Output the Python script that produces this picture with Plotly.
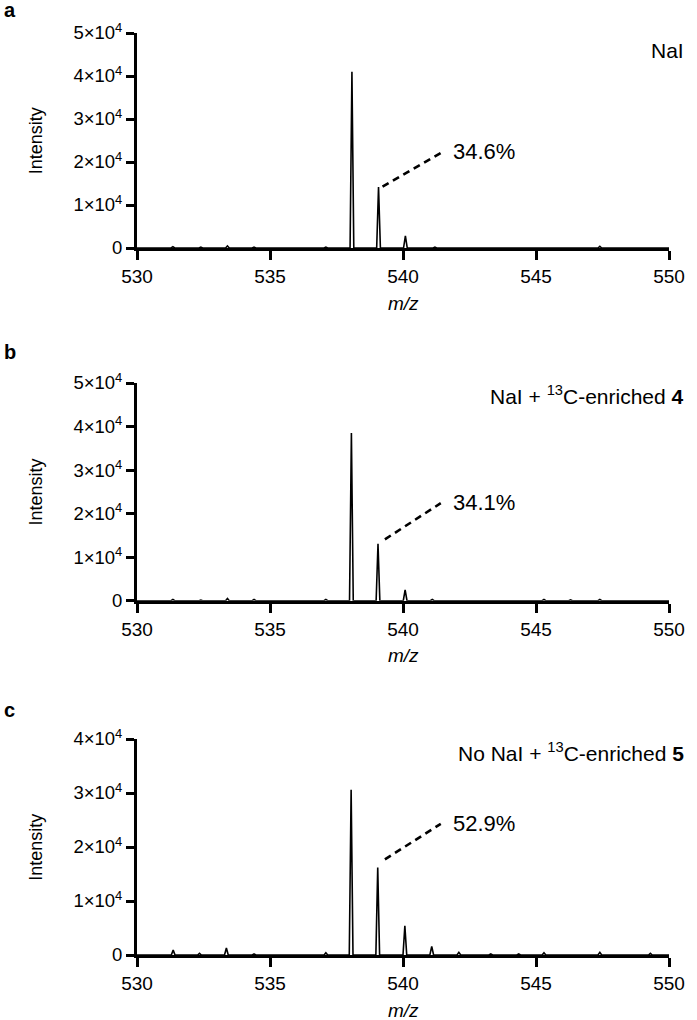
import plotly.graph_objects as go

# ---------------- data ----------------
mz_a = [531.35, 532.4, 533.4, 534.4, 537.1, 538.08, 539.08, 540.09, 541.2, 547.4]
int_a = [300, 200, 500, 200, 200, 41000, 14200, 2800, 200, 400]

mz_b = [531.35, 532.4, 533.4, 534.4, 537.1, 538.06, 539.06, 540.08, 541.1, 545.3, 546.3, 547.4]
int_b = [300, 150, 500, 300, 300, 38500, 13100, 2500, 300, 300, 200, 300]

mz_c = [531.36, 532.35, 533.36, 534.4, 537.1, 538.05, 539.05, 540.07, 541.08,
        542.1, 543.3, 544.35, 545.3, 547.4, 549.3]
int_c = [900, 300, 1300, 200, 400, 30600, 16200, 5400, 1600,
         500, 200, 200, 400, 500, 300]

labels = ["NaI", "NaI + <sup>13</sup>C-enriched <b>4</b>", "No NaI + <sup>13</sup>C-enriched <b>5</b>"]
letters = ["a", "b", "c"]
percents = ["34.6%", "34.1%", "52.9%"]
pct_line_start = [(539.23, 14300), (539.32, 14100), (539.32, 17700)]
pct_line_end = [(541.42, 22100), (541.42, 22400), (541.42, 24300)]
pct_text_y = [22500, 22500, 24400]

x_ticks = [530, 535, 540, 545, 550]
y_ticks_ab = [0, 10000, 20000, 30000, 40000, 50000]
y_text_ab = ["0", "1×10<sup>4</sup>", "2×10<sup>4</sup>", "3×10<sup>4</sup>", "4×10<sup>4</sup>", "5×10<sup>4</sup>"]
y_ticks_c = [0, 10000, 20000, 30000, 40000]
y_text_c = ["0", "1×10<sup>4</sup>", "2×10<sup>4</sup>", "3×10<sup>4</sup>", "4×10<sup>4</sup>"]

# ---------------- geometry ----------------
W, H = 697, 1020
L, R, T, B = 137, 678, 33, 955
PW, PH = R - L, B - T
panels_px = [(33, 248), (383, 600.7), (739, 955)]


def pyp(p):
    return (B - p) / PH


def pxp(p):
    return (p - L) / PW


FONT = "Liberation Sans, Arial, Helvetica, sans-serif"
HW = 0.07  # half-width of drawn peaks (m/z)


def spectrum(mz, inten):
    xs, ys = [530], [0]
    for c, h in sorted(zip(mz, inten)):
        xs += [c - HW, c, c + HW]
        ys += [0, h, 0]
    xs.append(550)
    ys.append(0)
    return xs, ys


fig = go.Figure()
data = [(mz_a, int_a), (mz_b, int_b), (mz_c, int_c)]
for i, (mz, inten) in enumerate(data):
    xs, ys = spectrum(mz, inten)
    sfx = "" if i == 0 else str(i + 1)
    fig.add_trace(go.Scatter(x=xs, y=ys, mode="lines",
                             line=dict(color="black", width=1.6),
                             xaxis="x" + sfx, yaxis="y" + sfx,
                             showlegend=False, hoverinfo="skip"))

layout = dict(width=W, height=H, margin=dict(l=L, r=W - R, t=T, b=H - B),
              paper_bgcolor="white", plot_bgcolor="white",
              font=dict(family=FONT, color="black"), showlegend=False)

annotations = []
shapes = []
for i, (top, bot) in enumerate(panels_px):
    sfx = "" if i == 0 else str(i + 1)
    yt = y_ticks_c if i == 2 else y_ticks_ab
    ytt = y_text_c if i == 2 else y_text_ab
    layout["xaxis" + sfx] = dict(domain=[0, 1], range=[530, 550], anchor="y" + sfx,
                                 tickvals=x_ticks, ticks="outside", ticklen=9, tickwidth=3,
                                 tickcolor="black", showline=True, linewidth=3, linecolor="black",
                                 showgrid=False, zeroline=False, tickfont=dict(size=19),
                                 fixedrange=True)
    layout["yaxis" + sfx] = dict(domain=[pyp(bot), pyp(top)], range=[0, yt[-1]],
                                 anchor="x" + sfx, tickvals=yt, ticktext=ytt,
                                 ticks="outside", ticklen=8, tickwidth=2.5, tickcolor="black",
                                 showline=True, linewidth=3, linecolor="black",
                                 showgrid=False, zeroline=False, tickfont=dict(size=18.5),
                                 fixedrange=True)
    mid = (top + bot) / 2
    annotations.append(dict(text="<b>%s</b>" % letters[i], xref="paper", yref="paper",
                            x=pxp(0), y=pyp([10, 352, 710][i]), xanchor="left", yanchor="middle",
                            showarrow=False, font=dict(size=20)))
    annotations.append(dict(text="Intensity", xref="paper", yref="paper", x=pxp(34), y=pyp(mid),
                            textangle=-90, xanchor="center", yanchor="middle",
                            showarrow=False, font=dict(size=18)))
    annotations.append(dict(text="<i>m/z</i>", xref="paper", yref="paper", x=0.5,
                            y=pyp(bot + 55), xanchor="center", yanchor="middle",
                            showarrow=False, font=dict(size=19)))
    annotations.append(dict(text=labels[i], xref="paper", yref="paper", x=pxp(695),
                            y=pyp([50, 395, 752][i]), xanchor="right", yanchor="middle",
                            showarrow=False, font=dict(size=21)))
    annotations.append(dict(text=percents[i], xref="x" + sfx, yref="y" + sfx, x=541.82,
                            y=pct_text_y[i], xanchor="left", yanchor="middle",
                            showarrow=False, font=dict(size=22)))
    (x0, y0), (x1, y1) = pct_line_start[i], pct_line_end[i]
    shapes.append(dict(type="line", xref="x" + sfx, yref="y" + sfx, x0=x0, y0=y0, x1=x1, y1=y1,
                       line=dict(color="black", width=2.6, dash="7px,5px")))

layout["annotations"] = annotations
layout["shapes"] = shapes
fig.update_layout(**layout)
fig.write_html("out.html", config={"displayModeBar": False},
               post_script="document.body.style.margin='0';document.body.style.overflow='hidden';")
